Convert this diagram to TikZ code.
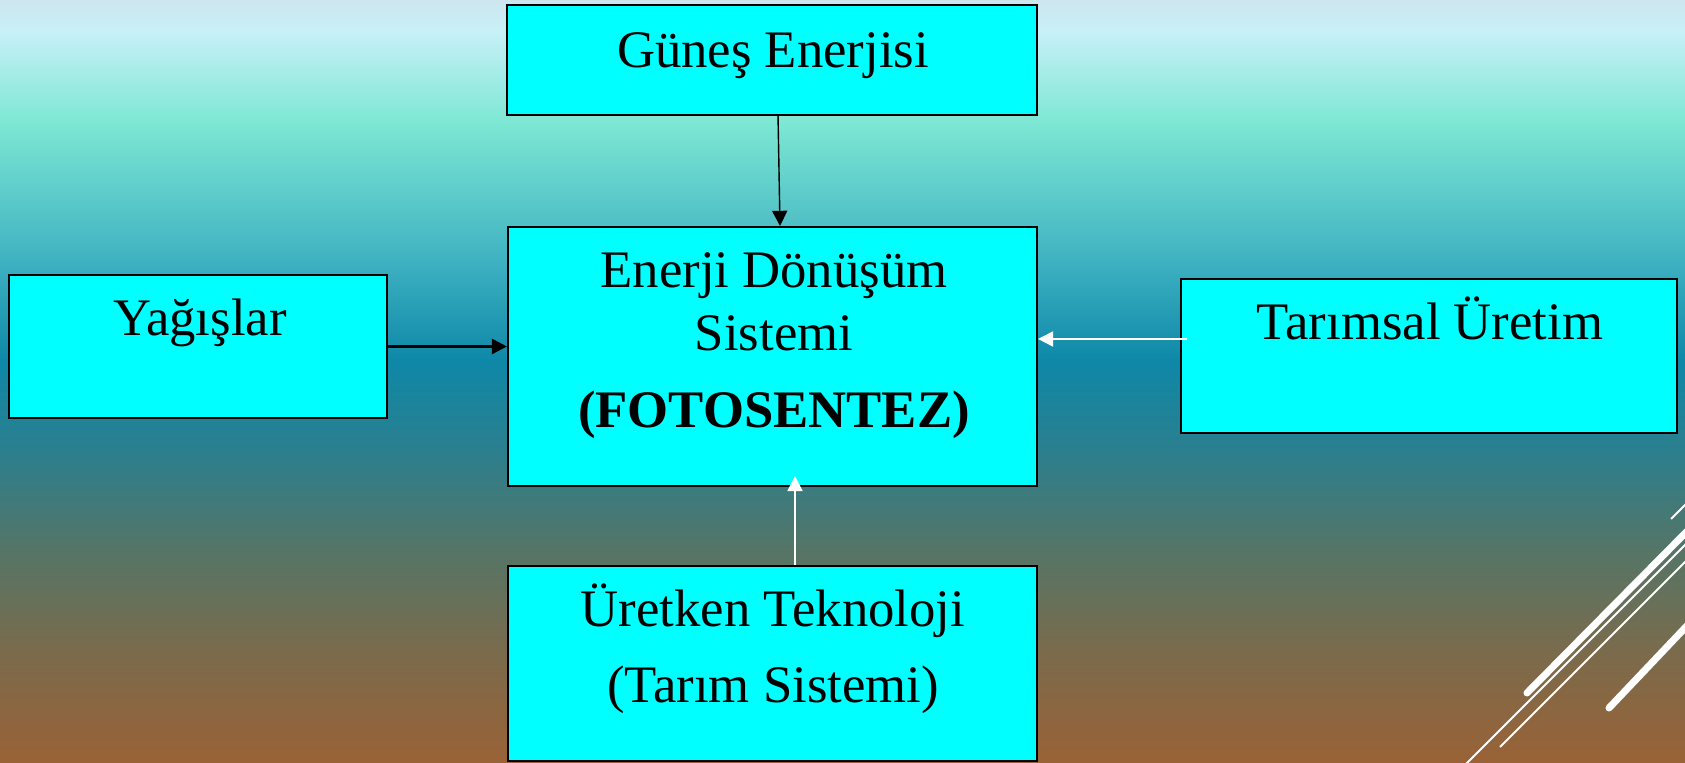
\documentclass[tikz,border=0pt]{standalone}
\usepackage{fontspec}
\setmainfont{Liberation Serif}
\usetikzlibrary{arrows.meta,calc}

\definecolor{bgA}{HTML}{CDE6EE}
\definecolor{bgB}{HTML}{C8F0F8}
\definecolor{bgC}{HTML}{7EE8D4}
\definecolor{bgD}{HTML}{3AAEC0}
\definecolor{bgE}{HTML}{0E88A8}
\definecolor{bgF}{HTML}{2B7F8E}
\definecolor{bgG}{HTML}{557566}
\definecolor{bgH}{HTML}{7A6B4C}
\definecolor{bgI}{HTML}{9A6236}
\definecolor{boxcyan}{HTML}{00FFFF}

\tikzset{
	box/.style={draw=black, line width=0.6pt, fill=boxcyan, inner sep=0pt},
	lbl/.style={anchor=base, inner sep=0pt, font=\fontsize{15}{18}\selectfont},
	deco/.style={white, line width=0.55pt},
	decothick/.style={white, line width=2pt, line cap=round}
}

\begin{document}
\begin{tikzpicture}[>={Triangle[length=4.3pt,width=4.3pt]}]

	\useasboundingbox (0,0) rectangle (16.85,7.63);

	% background
	\shade [top color=bgA, bottom color=bgB] (0,7.63) rectangle (16.85,7.32);
	\shade [top color=bgB, bottom color=bgC] (0,7.33) rectangle (16.85,6.42);
	\shade [top color=bgC, bottom color=bgD] (0,6.43) rectangle (16.85,4.92);
	\shade [top color=bgD, bottom color=bgE] (0,4.93) rectangle (16.85,4.02);
	\shade [top color=bgE, bottom color=bgF] (0,4.03) rectangle (16.85,3.12);
	\shade [top color=bgF, bottom color=bgG] (0,3.13) rectangle (16.85,2.12);
	\shade [top color=bgG, bottom color=bgH] (0,2.13) rectangle (16.85,1.12);
	\shade [top color=bgH, bottom color=bgI] (0,1.13) rectangle (16.85,0);

	\begin{scope}
		\clip (0,0) rectangle (16.85,7.63);
		\draw [decothick] (15.27, 0.70) -- (17.2, 2.65);
		\draw [decothick] (16.09, 0.55) -- (17.2, 1.72);
		\draw [deco] (14.50, -0.17) -- (17.2, 2.53);
		\draw [deco] (15.00, 0.16) -- (17.2, 2.36);
		\draw [deco] (16.71, 2.44) -- (17.0, 2.73);
	\end{scope}

	% boxes
	\node [box, minimum width=5.30cm, minimum height=1.10cm] (gunes) at (7.72, 7.028) {};
	\node [box, minimum width=5.29cm, minimum height=2.59cm] (enerji) at (7.725, 4.065) {};
	\node [box, minimum width=3.78cm, minimum height=1.43cm] (yagis) at (1.978, 4.165) {};
	\node [box, minimum width=4.96cm, minimum height=1.54cm] (tarim) at (14.29, 4.07) {};
	\node [box, minimum width=5.29cm, minimum height=1.95cm] (uretken) at (7.725, 0.995) {};

	% texts
	\node [lbl] (gunesA) at (7.73, 6.95) {Güneş Enerjisi};
	\node [lbl] (enerjiA) at (7.74, 4.75) {Enerji Dönüşüm};
	\node [lbl] (enerjiB) at (7.74, 4.12) {Sistemi};
	\node [lbl] (enerjiC) at (7.74, 3.35) {\textbf{(FOTOSENTEZ)}};
	\node [lbl] (yagisA) at (2.00, 4.27) {Yağışlar};
	\node [lbl] (tarimA) at (14.30, 4.23) {Tarımsal Üretim};
	\node [lbl] (uretkenA) at (7.73, 1.36) {Üretken Teknoloji};
	\node [lbl] (uretkenB) at (7.73, 0.60) {(Tarım Sistemi)};

	% arrows
	\draw [->, line width=0.4pt] ($(gunes.south)+(0.06,0.02)$) -- ($(enerji.north)+(0.075,0)$);
	\draw [->, line width=0.75pt] (yagis.east) -- (yagis.east -| enerji.west);
	\draw [->, white, line width=0.55pt] ($(tarim.west)+(0.07,0.17)$) coordinate (tarimS) -- (tarimS -| enerji.east);
	\draw [->, white, line width=0.55pt] ($(uretken.north)+(0.225,0)$) -- ($(enerji.south)+(0.225,0.11)$);

\end{tikzpicture}
\end{document}
